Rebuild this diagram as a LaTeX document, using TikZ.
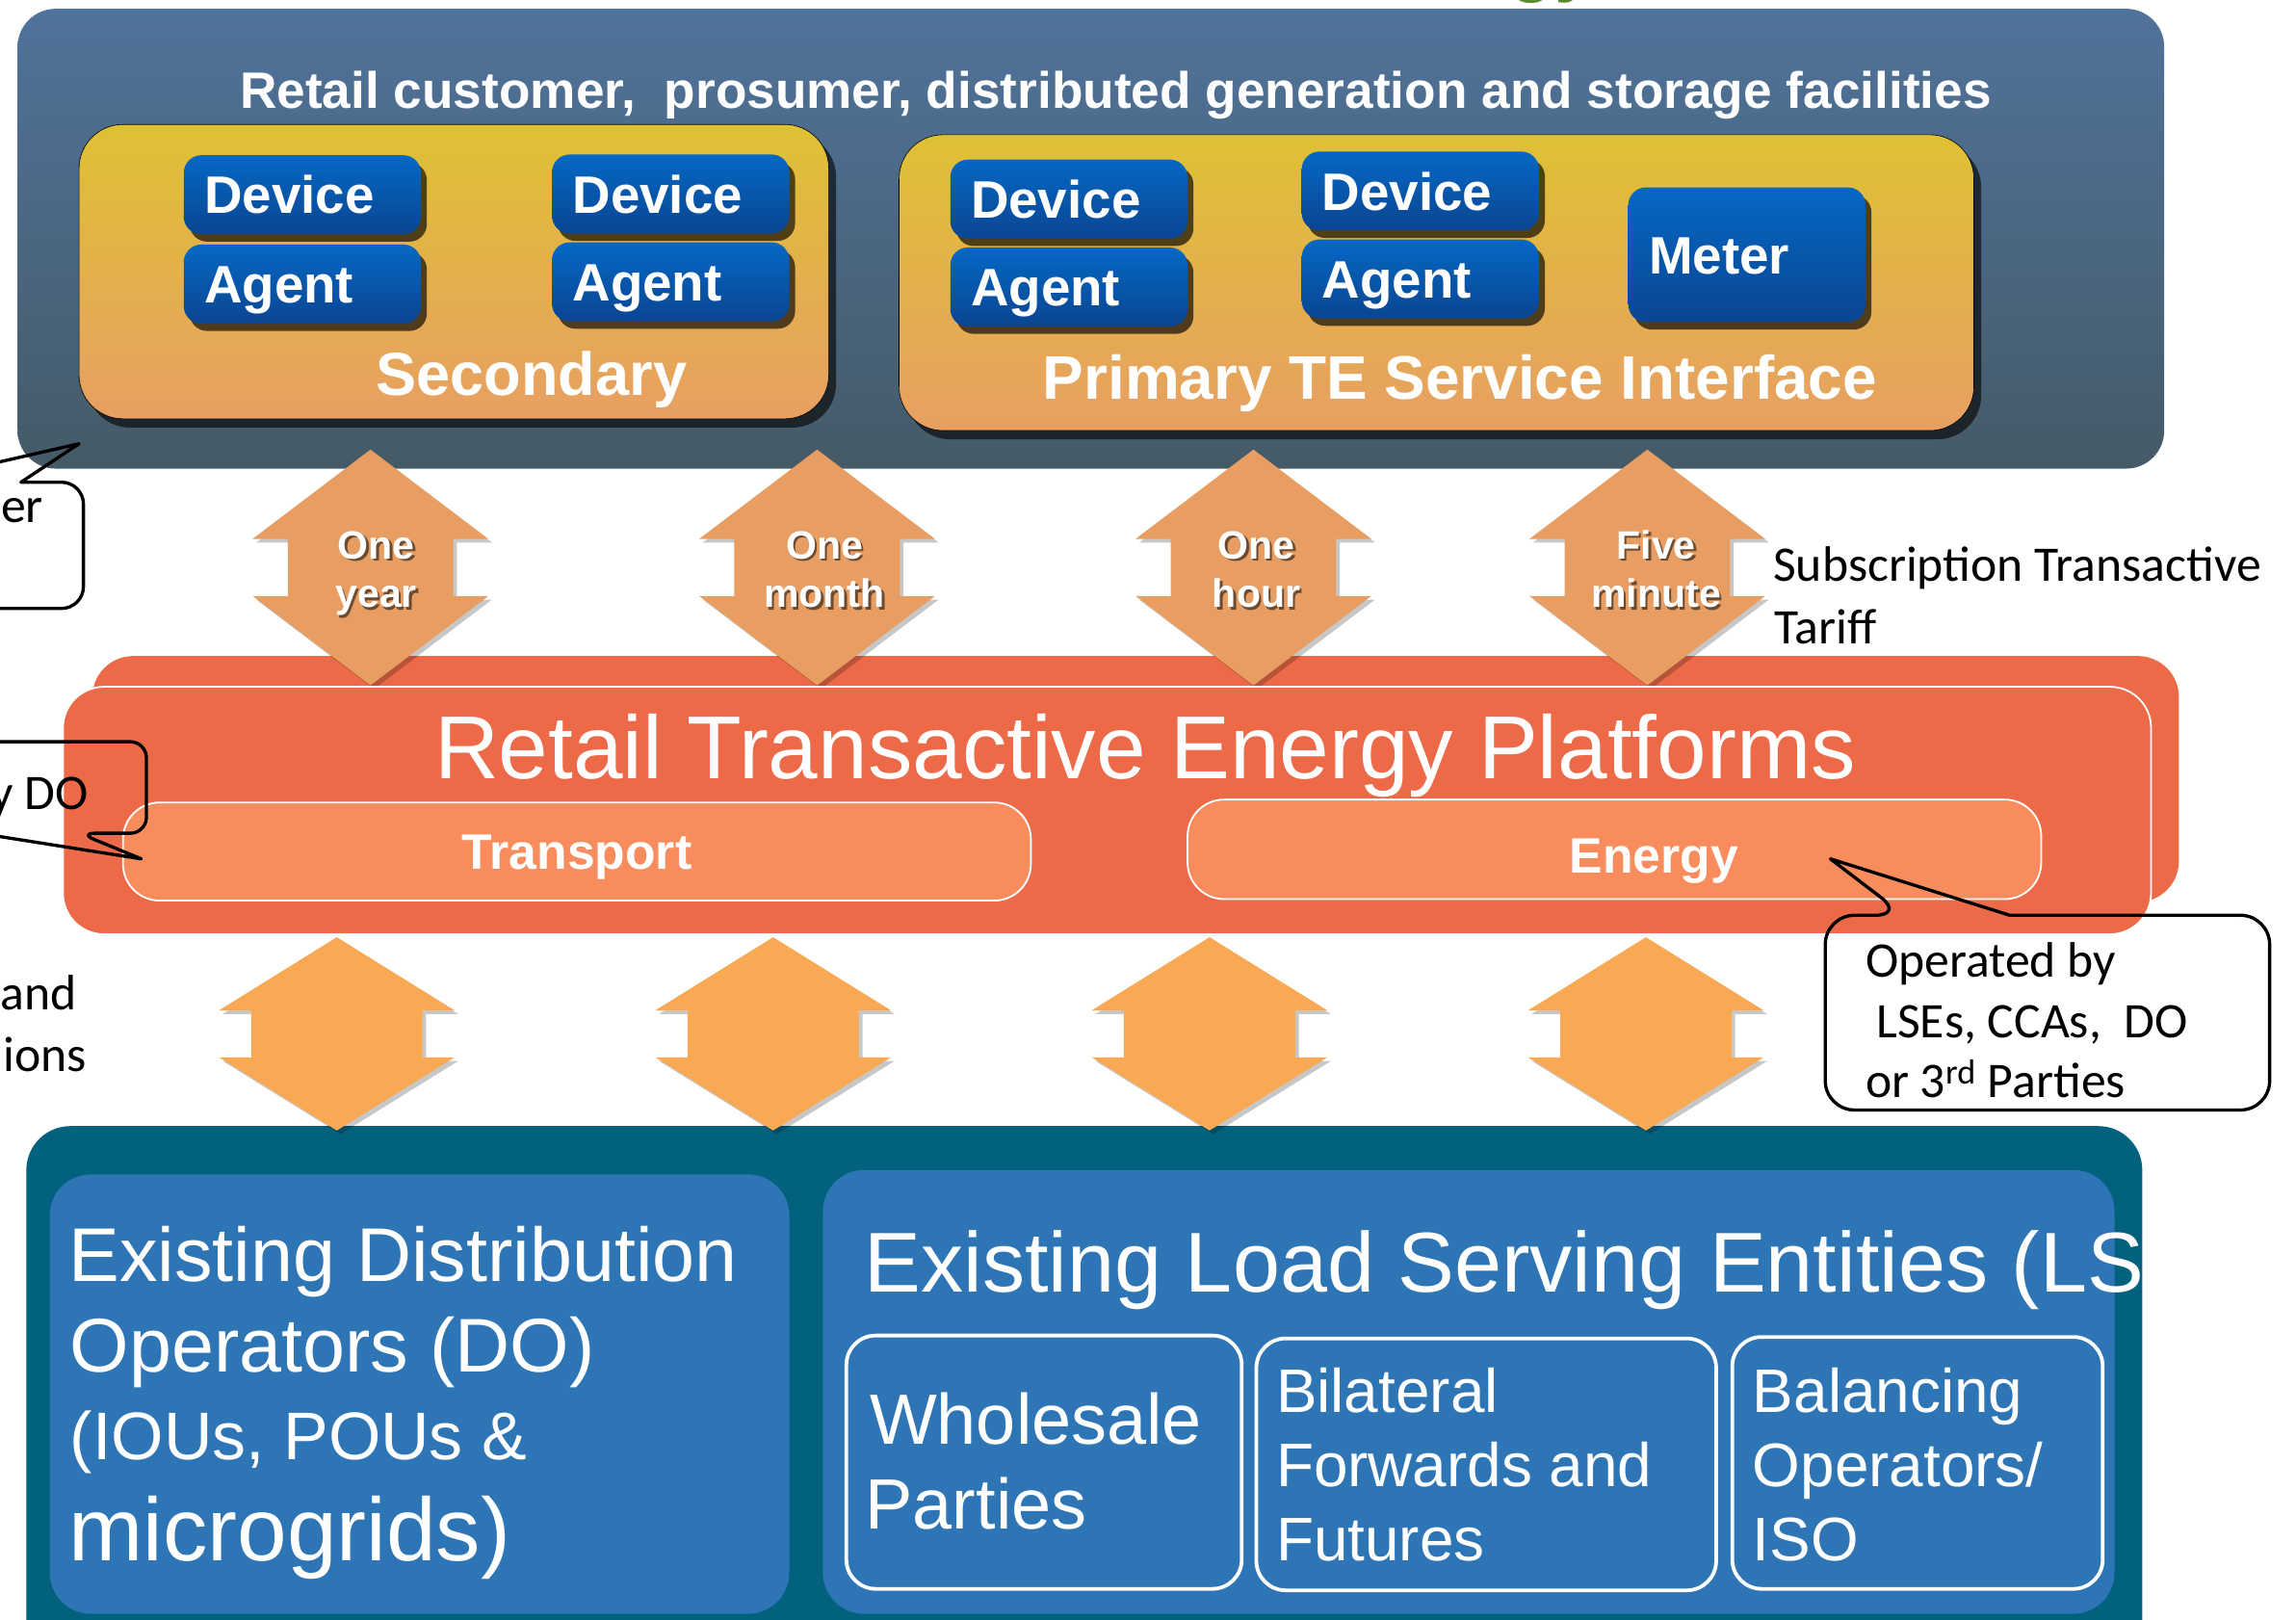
\documentclass[tikz,border=0pt]{standalone}
\usepackage{fontspec}
\setmainfont{Liberation Sans}
\newfontfamily\calibri{Carlito}
\usetikzlibrary{shadows}
\usetikzlibrary{positioning}

\definecolor{topblue}{HTML}{50739B}
\definecolor{topslate}{HTML}{455A67}
\definecolor{secyellow}{HTML}{DEC134}
\definecolor{secorange}{HTML}{E89F63}
\definecolor{devtop}{HTML}{0568C4}
\definecolor{devbot}{HTML}{0A4592}
\definecolor{arrowtan}{HTML}{E89E62}
\definecolor{arroworange}{HTML}{F9A954}
\definecolor{platred}{HTML}{ED6A49}
\definecolor{platlight}{HTML}{F88C5D}
\definecolor{lseteal}{HTML}{02627E}
\definecolor{doblue}{HTML}{2E75B6}
\definecolor{titlegreen}{HTML}{5B8C32}
\definecolor{labelshade}{HTML}{6B4A30}

\newcommand\fsz[1]{\fontsize{#1}{#1}\selectfont}
\newcommand\shadowed[1]{\leavevmode\rlap{\kern1.6pt\raisebox{-1.6pt}{\color{labelshade}#1}}#1}

\tikzset{
  every node/.style={inner sep=0pt, outer sep=0pt},
  agentbox/.style={rounded corners=12pt, top color=devtop, bottom color=devbot,
    minimum height=54pt, text width=134pt, inner xsep=14pt, align=left,
    text=white, font=\fsz{36}\bfseries, text height=25.8pt, text depth=0pt,
    drop shadow={shadow xshift=4pt, shadow yshift=-5pt, opacity=.65, fill=black}},
  ifacebox/.style={rounded corners=30pt, top color=secyellow, bottom color=secorange,
    drop shadow={shadow xshift=5pt, shadow yshift=-6pt, opacity=.6, fill=black}},
  tanarrow/.style={fill=arrowtan, draw=none,
    drop shadow={shadow xshift=2.5pt, shadow yshift=-2.5pt, opacity=.22, fill=black}},
  orangearrow/.style={fill=arroworange, draw=none,
    drop shadow={shadow xshift=2.5pt, shadow yshift=-2.5pt, opacity=.22, fill=black}},
  timelabel/.style={anchor=base, text=white, font=\fsz{27}\bfseries},
  lanebox/.style={rounded corners=25pt, fill=platlight, draw=white, line width=1.2pt,
    text=white, font=\fsz{34}\bfseries, text height=24.3pt, text depth=0pt},
  subbox/.style={rounded corners=20pt, fill=doblue, draw=white, line width=2.5pt},
  bluetext/.style={anchor=base west, text=white},
  callout/.style={draw=black, line width=2.2pt, line join=round},
  notetext/.style={font=\calibri\fsz{34}, text=black}
}

\begin{document}
\begin{tikzpicture}[x=1pt,y=-1pt]
\useasboundingbox (0,0) rectangle (1568,1106);
\clip (0,0) rectangle (1568,1106);

% heading remnant above the picture
\node[anchor=base west, text=titlegreen, font=\fsz{50}\bfseries] (heading) at (1031,-8) {gy};

% customer side
\draw[draw=none, rounded corners=26pt, top color=topblue, bottom color=topslate] (12,6) rectangle (1478,320);
\node[anchor=base, text=white, font=\fsz{35}\bfseries] (customers) at (762,74)
  {Retail customer,\ \ prosumer, distributed generation and storage facilities};

\draw[ifacebox] (54,85) rectangle (566,286);
\node[anchor=base, text=white, font=\fsz{41.5}\bfseries] (secondary) at (363,270) {Secondary};
\draw[ifacebox] (614,92) rectangle (1348,294);
\node[anchor=base, text=white, font=\fsz{42}\bfseries] (primary) at (997,272.5) {Primary TE Service Interface};

\node[agentbox] (dev1) at (206.5,133) {Device};
\node[agentbox, below=7pt of dev1] (agt1) {Agent};
\node[agentbox] (dev2) at (458,132.5) {Device};
\node[agentbox, below=6pt of dev2] (agt2) {Agent};
\node[agentbox] (dev3) at (730,136) {Device};
\node[agentbox, below=6pt of dev3] (agt3) {Agent};
\node[agentbox] (dev4) at (970,130.5) {Device};
\node[agentbox, below=6pt of dev4] (agt4) {Agent};
\node[agentbox, minimum height=92pt] (meter) at (1193,174) {Meter};

% platforms (back layer)
\draw[fill=platred, draw=none, rounded corners=28pt] (63,448) rectangle (1488,616);

% subscription time scales
\foreach \cx in {253,558,856,1125}
  \draw[tanarrow] (\cx,307) -- ++(80.5,61) -- ++(-24,0) -- ++(0,39) -- ++(24,0) -- (\cx,468)
    -- ++(-80.5,-61) -- ++(24,0) -- ++(0,-39) -- ++(-24,0) -- cycle;
\foreach \cx/\la/\lb/\nm in {257/One/year/yr, 563/One/month/mo, 858/One/hour/hr, 1131/Five/minute/fm} {
  \node[timelabel] (\nm1) at (\cx,381.5) {\shadowed{\la}};
  \node[timelabel] (\nm2) at (\cx,415) {\shadowed{\lb}};
}
\node[notetext, anchor=base west] (tariff1) at (1211,397) {Subscription Transactive};
\node[notetext, anchor=base west] (tariff2) at (1212,439.5) {Tariff};

% platforms (front layer)
\draw[fill=platred, draw=white, line width=1.2pt, rounded corners=28pt] (43,469) rectangle (1469,638);
\node[anchor=base, text=white, font=\fsz{61}] (platforms) at (782,531.5) {Retail Transactive Energy Platforms};
\node[lanebox, minimum width=620pt, minimum height=67pt] (transport) at (394,581.5) {Transport};
\node[lanebox, minimum width=583pt, minimum height=68pt] (energy) at (1102.5,580) {};
\node[text=white, font=\fsz{34}\bfseries, anchor=base] (energylab) at (1129.5,596) {Energy};

% existing entities
\draw[fill=lseteal, draw=none, rounded corners=30pt] (18,769) rectangle (1463,1140);
\draw[fill=doblue, draw=none, rounded corners=28pt] (34,802) rectangle (539,1102);
\draw[fill=doblue, draw=none, rounded corners=28pt] (562,799) rectangle (1444,1102);
\node[bluetext, font=\fsz{52}] (do1) at (47,875) {Existing Distribution};
\node[bluetext, font=\fsz{52}] (do2) at (48,937) {Operators (DO)};
\node[bluetext, font=\fsz{46}] (do3) at (48,996.5) {(IOUs, POUs \&};
\node[bluetext, font=\fsz{61}] (do4) at (47,1065.5) {microgrids)};
\begin{scope}
\clip (18,769) rectangle (1463,1140);
\node[bluetext, font=\fsz{58}] (lse) at (590.5,882.5) {Existing Load Serving Entities (LSEs)};
\end{scope}

\draw[subbox] (578,912) rectangle (848,1085);
\node[bluetext, font=\fsz{48.6}] (whole1) at (594,986) {Wholesale};
\node[bluetext, font=\fsz{48.6}] (whole2) at (591,1044) {Parties};
\draw[subbox] (858,914) rectangle (1172,1086);
\node[bluetext, font=\fsz{42}] (bilat1) at (871.5,964.5) {Bilateral};
\node[bluetext, font=\fsz{42}] (bilat2) at (871.5,1015.5) {Forwards and};
\node[bluetext, font=\fsz{42}] (bilat3) at (871.5,1066) {Futures};
\draw[subbox] (1183,913) rectangle (1436,1085);
\node[bluetext, font=\fsz{42}] (bal1) at (1197,964.5) {Balancing};
\node[bluetext, font=\fsz{42}] (bal2) at (1197,1015.5) {Operators/};
\node[bluetext, font=\fsz{42}] (bal3) at (1197,1066) {ISO};

% settlement links
\foreach \cx in {230,528,826,1124}
  \draw[orangearrow] (\cx,640) -- ++(80.5,50) -- ++(-22,0) -- ++(0,32) -- ++(22,0) -- (\cx,772)
    -- ++(-80.5,-50) -- ++(22,0) -- ++(0,-32) -- ++(-22,0) -- cycle;

% callouts
\draw[callout] (1250,586.5) -- (1372.5,625) [rounded corners=20pt] -- (1550,625) -- (1550,758)
  -- (1246.5,758) -- (1246.5,625) -- (1300.5,625) [sharp corners] -- cycle;
\node[notetext, anchor=base west] (oper1) at (1274,667) {Operated by};
\node[notetext, anchor=base west] (oper2) at (1281.5,708.5) {LSEs, CCAs,\ \ DO};
\node[notetext, anchor=base west] (oper3) at (1274,749.5) {or 3\textsuperscript{rd} Parties};

\draw[callout] (-5,316.5) -- (54,303) -- (14.3,329.3) [rounded corners=15pt] -- (57,329.3) -- (57,415.5) -- (-5,415.5);
\node[notetext, anchor=base east] (left1) at (29.5,356.5) {er};
\draw[callout] (-5,506.5) [rounded corners=11pt] -- (100,506.5) -- (100,569) -- (54,569) [sharp corners] -- (96.5,586.5) -- (-5,570.5);
\node[notetext, anchor=base east] (left2) at (60.5,552.5) {y DO};
\node[notetext, anchor=base east] (left3) at (52.5,689.5) {and};
\node[notetext, anchor=base east] (left4) at (59,731.5) {ions};

\end{tikzpicture}
\end{document}
